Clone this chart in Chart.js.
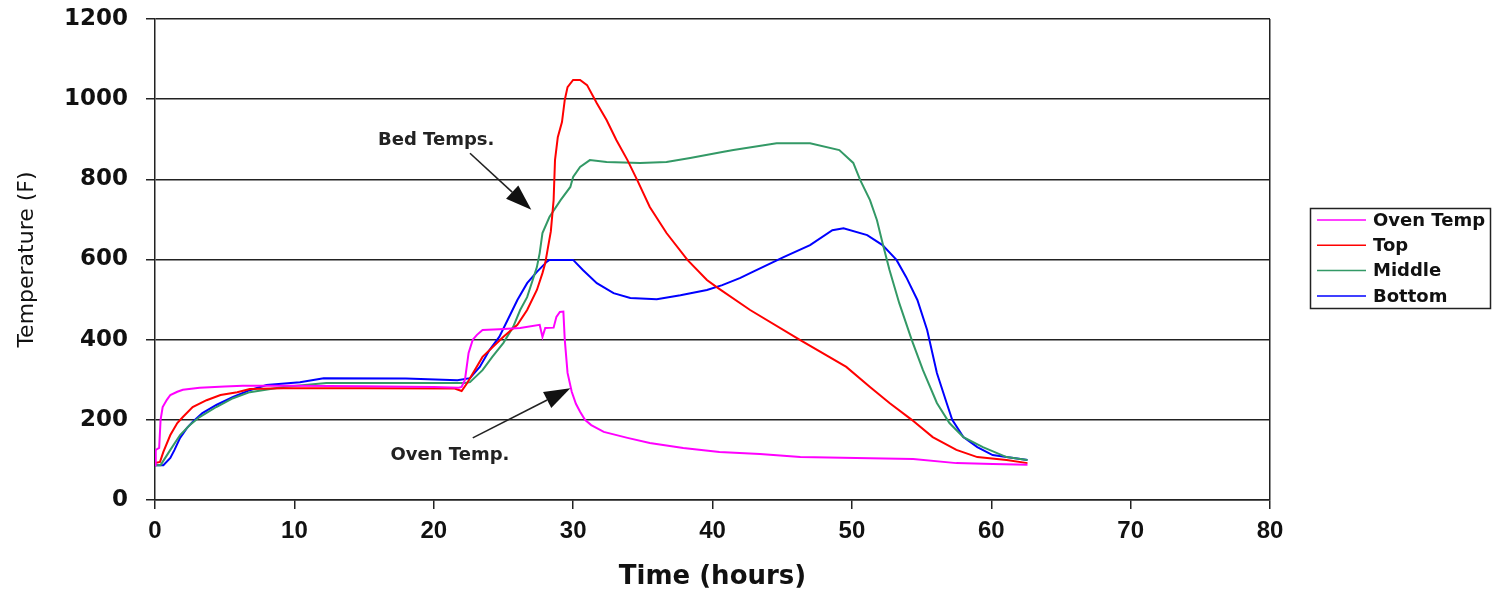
<!DOCTYPE html>
<html>
<head>
<meta charset="utf-8">
<script src="https://cdn.jsdelivr.net/npm/chart.js@4/dist/chart.umd.min.js"></script>
<style>
  html, body { margin: 0; padding: 0; background: #ffffff; }
  #wrap { width: 1493px; height: 593px; }
</style>
</head>
<body>
<div id="wrap"><canvas id="c" width="1493" height="593"></canvas></div>
<script>
// ---- data ----
const seriesNames = ["Oven Temp", "Top", "Middle", "Bottom"];
const xTicks = [0, 10, 20, 30, 40, 50, 60, 70, 80];
const yTicks = [0, 200, 400, 600, 800, 1000, 1200];

const ovenHours = [0, 0.05, 0.3, 0.4, 0.55, 0.85, 1.1, 1.6, 2.0, 3.2, 5.0, 6.3, 10, 15, 20, 21.8, 22.0, 22.24, 22.5, 22.8, 23.1, 23.5, 24.7, 26.2, 27.6, 27.8, 28.0, 28.6, 28.8, 29.05, 29.3, 29.4, 29.6, 29.9, 30.2, 30.5, 30.85, 31.3, 32.2, 33.9, 35.5, 37.9, 40.5, 43.4, 46.3, 50.3, 54.4, 57.5, 60.1, 62.6];
const ovenTemp  = [87, 125, 130, 200, 232, 250, 262, 270, 275, 280, 283, 285, 285, 284, 282, 280, 282, 300, 367, 400, 412, 424, 426, 429, 437, 407, 429, 430, 457, 469, 470, 400, 317, 270, 240, 220, 200, 187, 170, 155, 142, 130, 120, 115, 107, 105, 102, 92, 90, 88];

const topHours = [0, 0.36, 0.6, 1.1, 1.6, 2.0, 2.7, 3.7, 4.7, 5.9, 6.8, 9.2, 15, 21.5, 22.0, 22.4, 23.5, 25.0, 26.0, 26.7, 27.4, 27.8, 28.0, 28.2, 28.4, 28.6, 28.7, 28.9, 29.2, 29.4, 29.6, 30.0, 30.5, 31.0, 31.7, 32.4, 33.1, 33.9, 34.6, 35.5, 36.7, 38.2, 39.6, 40.3, 42.7, 46.3, 49.6, 51.3, 52.7, 54.3, 55.8, 57.5, 59.0, 61.1, 62.6];
const topTemp  = [92, 95, 120, 162, 192, 207, 232, 249, 262, 269, 277, 279, 279, 278, 272, 292, 357, 407, 437, 474, 524, 566, 591, 631, 670, 748, 848, 905, 943, 998, 1030, 1048, 1048, 1035, 990, 948, 898, 848, 798, 731, 666, 599, 549, 531, 474, 399, 332, 282, 242, 200, 157, 125, 107, 100, 92];

const midHours = [0, 0.4, 1.1, 1.8, 2.5, 3.2, 4.4, 5.6, 6.8, 9.2, 12.3, 18, 22.2, 22.6, 23.5, 24.2, 25.0, 25.7, 26.2, 26.7, 27.1, 27.4, 27.6, 27.8, 28.3, 29.1, 29.8, 30.0, 30.5, 31.2, 32.4, 34.8, 36.7, 38.4, 40.7, 41.5, 44.6, 47.0, 49.1, 50.1, 50.6, 51.3, 51.8, 52.2, 52.7, 53.4, 54.3, 55.1, 56.1, 57.0, 58.0, 59.4, 61.1, 62.6];
const midTemp  = [87, 87, 125, 162, 187, 207, 232, 254, 269, 282, 292, 292, 292, 294, 324, 357, 392, 432, 474, 506, 549, 581, 616, 666, 706, 748, 781, 806, 831, 848, 843, 841, 843, 853, 868, 873, 890, 890, 873, 841, 798, 748, 698, 641, 574, 491, 399, 324, 242, 192, 157, 132, 107, 100];

const botHours = [0, 0.6, 1.1, 1.4, 1.8, 2.3, 2.7, 3.4, 4.4, 5.6, 6.8, 8.0, 10.4, 12.1, 18, 21.7, 22.6, 23.3, 24.0, 24.7, 25.3, 26.0, 26.7, 27.4, 28.1, 28.3, 30.0, 30.7, 31.7, 32.9, 34.1, 36.0, 37.7, 39.6, 40.7, 42.0, 42.7, 45.1, 47.0, 48.6, 49.4, 51.1, 52.2, 53.2, 53.9, 54.7, 55.4, 56.1, 56.8, 57.2, 58.0, 59.0, 60.1, 62.6];
const botTemp  = [87, 87, 105, 125, 155, 180, 195, 217, 237, 257, 274, 287, 294, 304, 303, 299, 304, 332, 374, 407, 449, 499, 541, 569, 594, 599, 599, 574, 541, 516, 504, 501, 511, 524, 536, 554, 566, 606, 636, 673, 678, 661, 636, 599, 556, 499, 424, 317, 242, 200, 157, 132, 112, 100];

// annotation anchors in data units [hours, temp]
const bedLabel = { text: "Bed Temps.", at: [16.0, 898], from: [22.6, 865], to: [27.0, 724] };
const ovenLabel = { text: "Oven Temp.", at: [16.9, 112], from: [22.8, 155], to: [29.8, 279] };

const colors = ["#ff00ff", "#ff0000", "#339966", "#0000ff"];

function pts(xs, ys) { return xs.map((x, i) => ({ x: x, y: ys[i] })); }

const datasets = [
  [ovenHours, ovenTemp], [topHours, topTemp], [midHours, midTemp], [botHours, botTemp]
].map((s, i) => ({
  label: seriesNames[i],
  data: pts(s[0], s[1]),
  borderColor: colors[i],
  backgroundColor: colors[i],
  borderWidth: 2,
  pointRadius: 0,
  tension: 0,
  fill: false
}));

// ---- plugins ----
const annotationPlugin = {
  id: "annot",
  afterDatasetsDraw(chart) {
    const ctx = chart.ctx, xs = chart.scales.x, ys = chart.scales.y;
    ctx.save();
    [bedLabel, ovenLabel].forEach(a => {
      const fx = xs.getPixelForValue(a.from[0]), fy = ys.getPixelForValue(a.from[1]);
      const tx = xs.getPixelForValue(a.to[0]), ty = ys.getPixelForValue(a.to[1]);
      const ang = Math.atan2(ty - fy, tx - fx);
      const hl = 26, hw = 9;
      const bx = tx - hl * Math.cos(ang), by = ty - hl * Math.sin(ang);
      ctx.strokeStyle = "#222"; ctx.fillStyle = "#111"; ctx.lineWidth = 1.6;
      ctx.beginPath(); ctx.moveTo(fx, fy); ctx.lineTo(bx, by); ctx.stroke();
      ctx.beginPath();
      ctx.moveTo(tx, ty);
      ctx.lineTo(bx + hw * Math.sin(ang), by - hw * Math.cos(ang));
      ctx.lineTo(bx - hw * Math.sin(ang), by + hw * Math.cos(ang));
      ctx.closePath(); ctx.fill();
      ctx.font = 'bold 18px "DejaVu Sans"';
      ctx.textAlign = "left"; ctx.textBaseline = "middle"; ctx.fillStyle = "#222";
      ctx.fillText(a.text, xs.getPixelForValue(a.at[0]), ys.getPixelForValue(a.at[1]));
    });
    ctx.restore();
  }
};

const boxLegendPlugin = {
  id: "boxLegend",
  afterDraw(chart) {
    const ctx = chart.ctx;
    const L = 1310, T = 208, W = 180, H = 100, row = 25.3;
    ctx.save();
    ctx.strokeStyle = "#222"; ctx.lineWidth = 1.5;
    ctx.strokeRect(L + 0.5, T + 0.5, W, H);
    chart.data.datasets.forEach((ds, i) => {
      const y = T + 12 + i * row;
      ctx.strokeStyle = ds.borderColor; ctx.lineWidth = 1.5;
      ctx.beginPath(); ctx.moveTo(L + 7, y); ctx.lineTo(L + 56, y); ctx.stroke();
      ctx.font = 'bold 18px "DejaVu Sans"';
      ctx.fillStyle = "#111"; ctx.textAlign = "left"; ctx.textBaseline = "middle";
      ctx.fillText(ds.label, L + 63, y + 1);
    });
    ctx.restore();
  }
};

new Chart(document.getElementById("c"), {
  type: "line",
  data: { datasets: datasets },
  options: {
    responsive: false,
    animation: false,
    devicePixelRatio: 1,
    layout: { padding: { left: 0, top: 19, right: 223, bottom: 0 } },
    plugins: { legend: { display: false }, tooltip: { enabled: false } },
    scales: {
      x: {
        type: "linear", min: 0, max: 80,
        afterBuildTicks: s => { s.ticks = xTicks.map(v => ({ value: v })); },
        afterFit: s => { s.height = 93; },
        grid: {
          drawOnChartArea: true,
          color: c => (c.tick && c.tick.value === 80) ? "#222" : "rgba(0,0,0,0)",
          lineWidth: 1.5, tickColor: "#222", tickLength: 9, drawTicks: true
        },
        border: { display: true, color: "#222", width: 1.5 },
        ticks: { color: "#111", padding: 8, maxRotation: 0,
                 callback: v => String(v),
                 font: { family: '"Liberation Sans Narrow", "Liberation Sans", Arial, sans-serif', weight: "bold", size: 24 } },
        title: { display: true, text: "Time (hours)", color: "#111", padding: { top: 0, bottom: 0 },
                 font: { family: '"DejaVu Sans"', weight: "bold", size: 26 } }
      },
      y: {
        type: "linear", min: 0, max: 1200,
        afterBuildTicks: s => { s.ticks = yTicks.map(v => ({ value: v })); },
        afterFit: s => { s.width = 155; s.paddingTop = 0; s.paddingBottom = 0; },
        grid: { color: "#222", lineWidth: 1.5, tickColor: "#222", tickLength: 9, drawTicks: true },
        border: { display: true, color: "#222", width: 1.5 },
        ticks: { color: "#111", padding: 18,
                 callback: v => String(v),
                 font: { family: '"DejaVu Sans"', weight: "bold", size: 23 } },
        title: { display: true, text: "Temperature (F)", color: "#111", padding: { top: 14, bottom: 0 },
                 font: { family: '"DejaVu Sans"', weight: "normal", size: 22 } }
      }
    }
  },
  plugins: [annotationPlugin, boxLegendPlugin]
});
</script>
</body>
</html>
